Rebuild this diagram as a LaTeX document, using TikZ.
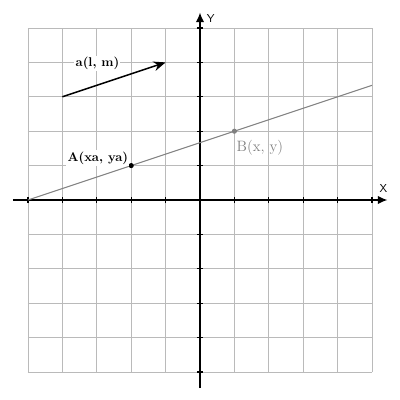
\documentclass[tikz,border=0pt]{standalone}
\usetikzlibrary{arrows.meta}
\begin{document}
\begin{tikzpicture}[x=1cm,y=1cm,
  gridline/.style={draw=black!27, line width=0.8pt},
  axisline/.style={draw=black, line width=1.1pt, -{Latex[length=8pt,width=7pt]}},
  tickmark/.style={draw=black, line width=1pt},
  lbl/.style={font=\fontsize{10.5}{12}\selectfont\bfseries, fill=white, inner sep=1pt},
  axlbl/.style={font=\fontsize{9.5}{11}\selectfont\sffamily, inner sep=0pt}]
\useasboundingbox[fill=white] (-5.814,-5.814) rectangle (5.814,5.814);
% grid
\draw[gridline] (-5,-5) grid (5,5);
% axes
\coordinate (xs) at (-5.44,0);
\coordinate (xe) at (5.45,0);
\coordinate (ys) at (0,-5.47);
\coordinate (ye) at (0,5.45);
\draw[axisline] (xs) -- (xe);
\draw[axisline] (ys) -- (ye);
\foreach \i in {-5,...,5}{
  \draw[tickmark] (\i,-0.09) -- (\i,0.09);
  \draw[tickmark] (-0.09,\i) -- (0.09,\i);
}
\node[axlbl] (xl) at (5.33,0.32) {X};
\node[axlbl] (yl) at (0.31,5.29) {Y};
% line through A and B
\coordinate (L0) at (-5,0);
\coordinate (L1) at (5,3.3333);
\draw[draw=black!50, line width=0.8pt] (L0) -- (L1);
\coordinate (A) at (-2,1);
\coordinate (B) at (1,2);
\fill[black] (A) circle (0.075);
\fill[black!50] (B) circle (0.075);
\node[lbl] (Al) at (-2.97,1.22) {A(xa, ya)};
\node[font=\fontsize{12.4}{14}\selectfont, text=black!50, inner sep=1pt] (Bl) at (1.74,1.53) {B(x, y)};
% vector
\coordinate (v0) at (-4,3);
\coordinate (v1) at (-1,4);
\draw[line width=1.2pt, -{Stealth[length=10pt,width=8pt]}] (v0) -- (v1);
\node[lbl] (vl) at (-2.98,3.98) {a(l, m)};
\end{tikzpicture}
\end{document}
